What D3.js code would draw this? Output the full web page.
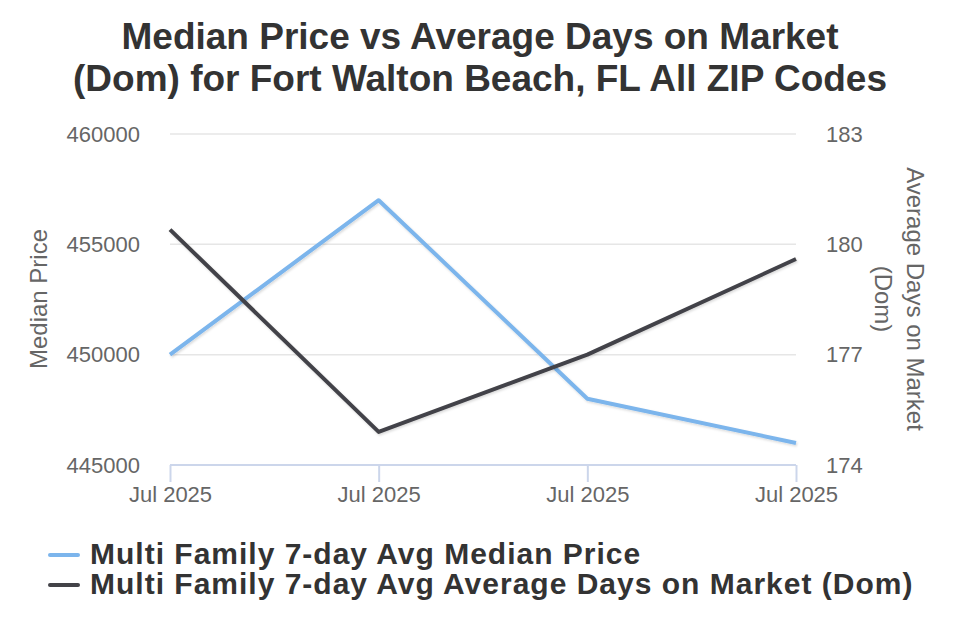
<!DOCTYPE html>
<html><head><meta charset="utf-8">
<script src="https://cdn.jsdelivr.net/npm/d3@7/dist/d3.min.js"></script>
<style>body{margin:0;background:#fff;font-family:"Liberation Sans",Arial,sans-serif}</style>
</head><body><svg id="c" width="960" height="640"></svg>
<script>
const categories = ["Jul 2025","Jul 2025","Jul 2025","Jul 2025"];
const medianPrice = [450000, 457000, 448000, 446000];
const avgDom = [180.4, 174.9, 177.0, 179.6];
const leftTicks = [445000, 450000, 455000, 460000];
const rightTicks = [174, 177, 180, 183];
const titleLines = ["Median Price vs Average Days on Market", "(Dom) for Fort Walton Beach, FL All ZIP Codes"];
const seriesNames = ["Multi Family 7-day Avg Median Price", "Multi Family 7-day Avg Average Days on Market (Dom)"];
const colors = ["#7cb5ec", "#434348"];

const svg = d3.select("#c");
const L = 170, R = 796, T = 134, B = 465;
const x = d3.scalePoint().domain(d3.range(categories.length)).range([L, R]);
const yL = d3.scaleLinear().domain([445000, 460000]).range([B, T]);
const yR = d3.scaleLinear().domain([174, 183]).range([B, T]);

const defs = svg.append("defs");
const f = defs.append("filter").attr("id","sh").attr("x","-10%").attr("y","-10%").attr("width","120%").attr("height","130%");
f.append("feDropShadow").attr("dx",1).attr("dy",1.5).attr("stdDeviation",1).attr("flood-color","#000").attr("flood-opacity",0.15);

// title
svg.append("text").attr("x",480).attr("text-anchor","middle").attr("fill","#333")
  .style("font-size","37px").style("font-weight","bold")
  .selectAll("tspan").data(titleLines).join("tspan")
  .attr("x",480).attr("y",(d,i)=>49+i*42).text(d=>d);

// gridlines
svg.append("g").selectAll("line").data(leftTicks).join("line")
  .attr("x1",L).attr("x2",R).attr("y1",d=>yL(d)).attr("y2",d=>yL(d))
  .attr("stroke","#e6e6e6").attr("stroke-width",1.5);

const ff = "Liberation Sans, Arial, sans-serif";
// left axis labels
const gl = svg.append("g").attr("transform",`translate(${L-30},0)`)
  .call(d3.axisLeft(yL).tickValues(leftTicks).tickSize(0).tickPadding(0).tickFormat(d3.format("d")));
gl.select(".domain").remove();
gl.selectAll("text").attr("fill","#666").style("font-size","22px").style("font-family",ff);

const gr = svg.append("g").attr("transform",`translate(${R+30},0)`)
  .call(d3.axisRight(yR).tickValues(rightTicks).tickSize(0).tickPadding(0));
gr.select(".domain").remove();
gr.selectAll("text").attr("fill","#666").style("font-size","22px").style("font-family",ff);

// x axis
const gx = svg.append("g").attr("transform",`translate(0,${B})`)
  .call(d3.axisBottom(x).tickSize(17).tickPadding(4).tickFormat(i=>categories[i]));
gx.select(".domain").attr("stroke","#ccd6eb").attr("stroke-width",2).attr("d",`M${L},0H${R}`);
gx.selectAll("line").attr("stroke","#ccd6eb").attr("stroke-width",2);
gx.selectAll("text").attr("fill","#666").style("font-size","22px").style("font-family",ff);

// axis titles
svg.append("text").attr("transform","translate(47,299) rotate(-90)").attr("text-anchor","middle")
  .attr("fill","#666").style("font-size","24px").text("Median Price");
const rt = svg.append("text").attr("transform","translate(907,299) rotate(90)").attr("text-anchor","middle")
  .attr("fill","#666").style("font-size","24px");
rt.append("tspan").attr("x",0).attr("y",0).text("Average Days on Market");
rt.append("tspan").attr("x",0).attr("y",32).text("(Dom)");

// lines
const l1 = d3.line().x((d,i)=>x(i)).y(d=>yL(d));
const l2 = d3.line().x((d,i)=>x(i)).y(d=>yR(d));
svg.append("path").datum(medianPrice).attr("d",l1).attr("fill","none").attr("stroke",colors[0])
  .attr("stroke-width",4).attr("stroke-linejoin","round").attr("filter","url(#sh)");
svg.append("path").datum(avgDom).attr("d",l2).attr("fill","none").attr("stroke",colors[1])
  .attr("stroke-width",4).attr("stroke-linejoin","round").attr("filter","url(#sh)");

// legend
const lg = svg.append("g").selectAll("g").data(seriesNames).join("g")
  .attr("transform",(d,i)=>`translate(0,${555+i*30})`);
lg.append("line").attr("x1",50).attr("x2",78).attr("y1",0).attr("y2",0)
  .attr("stroke",(d,i)=>colors[i]).attr("stroke-width",4).attr("stroke-linecap","round");
lg.append("text").attr("x",90).attr("y",9).attr("fill","#333").style("font-size","30px")
  .style("letter-spacing","1px").style("font-weight","bold").text(d=>d);
</script></body></html>
